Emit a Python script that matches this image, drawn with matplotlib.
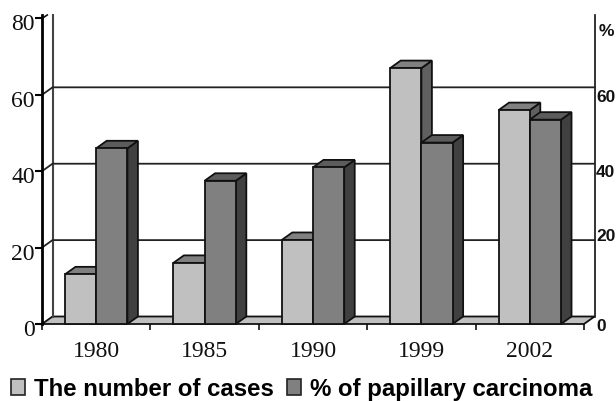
import matplotlib.pyplot as plt
from matplotlib.patches import Patch, Polygon
from matplotlib.transforms import Bbox, ScaledTranslation

W, H = 616, 402

years = ["1980", "1985", "1990", "1999", "2002"]
cases = [13, 16, 22, 67, 56]
papillary = [46, 37.5, 41, 47.5, 53.5]
left_ticks = [0, 20, 40, 60, 80]
right_labels = ["0", "20", "40", "60"]
right_label_y = [327, 237, 173, 97]   # pixels from top, they sit a bit off the grid

LIGHT = "#c0c0c0"
MID = "#808080"
LINE = "#111111"

fig = plt.figure(figsize=(W / 100, H / 100), dpi=100)

# axes box = front plane of the 3d chart
x0, x1, y0, y1 = 42, 584, 325, 16
ax = fig.add_axes([x0 / W, 1 - y0 / H, (x1 - x0) / W, (y0 - y1) / H])
ax.set_xlim(0, len(years))
ax.set_ylim(0, 80.9)
ax.patch.set_visible(False)
for s in ax.spines.values():
    s.set_visible(False)

# depth of the box in data units
px_x = len(years) / (x1 - x0)
px_y = 80.9 / (y0 - y1)
dx = 10.5 * px_x
dy = 7.5 * px_y
nx = len(years)
top = 80.9


def poly(points, fc, z, ec=LINE, lw=1.3):
    ax.add_patch(Polygon(points, closed=True, fc=fc, ec=ec, lw=lw, zorder=z,
                         clip_on=False, joinstyle="miter"))


def bar3d(left, width, height, front, side, lid, z):
    poly([(left, 0), (left + width, 0), (left + width, height), (left, height)], front, z + 0.2)
    poly([(left + width, 0), (left + width + dx, dy), (left + width + dx, height + dy),
          (left + width, height)], side, z)
    poly([(left, height), (left + width, height), (left + width + dx, height + dy),
          (left + dx, height + dy)], lid, z + 0.1)


# floor
poly([(0, 0), (dx, dy), (nx + dx, dy), (nx, 0)], LIGHT, 1)

# back walls
ax.plot([dx, dx], [dy, top], color="#444444", lw=1.5, zorder=1.5, clip_on=False)
ax.plot([nx + dx, nx + dx], [dy, top], color=LINE, lw=1.2, zorder=1.5, clip_on=False)
ax.plot([0, 0], [0, top], color="black", lw=2, zorder=6, clip_on=False)

# grid lines on the walls
for v in left_ticks[1:4]:
    ax.plot([0, dx, nx + dx], [v, v + dy, v + dy], color="#222222", lw=1.3, zorder=1.6,
            clip_on=False)
ax.plot([0, dx * 0.5], [80, top], color=LINE, lw=1.2, zorder=1.6, clip_on=False)

# bars
bar_w = 0.288
for i in range(len(years)):
    c = i + 0.5
    z = 3 + 2 * i
    bar3d(c - bar_w, bar_w, cases[i], LIGHT, "#606060", MID, z)
    bar3d(c, bar_w, papillary[i], MID, "#404040", "#5c5c5c", z + 1)

ax.set_yticks(left_ticks)
ax.set_yticklabels([str(v) for v in left_ticks], family="Liberation Serif", fontsize=17)
ax.tick_params(axis="y", length=5, width=1.5, pad=1, color="black")
shift = ScaledTranslation(1 / 100, -3 / 100, fig.dpi_scale_trans)
for lab in ax.get_yticklabels():
    lab.set_color("#111111")
    lab.set_transform(lab.get_transform() + shift)
    # the top of the 80 is cut off in the original
    lab.set_clip_box(Bbox([[0, 0], [W, H - y1]]))
    lab.set_clip_on(True)

ax.set_xticks(range(len(years) + 1))
ax.set_xticklabels([""] * (len(years) + 1))
ax.tick_params(axis="x", length=4, width=1.2, color=LINE)
for i, y in enumerate(years):
    ax.annotate(y, xy=(i + 0.5, 0), xytext=(0, -32), xycoords="data", textcoords="offset pixels",
                ha="center", va="baseline", family="Liberation Serif", fontsize=17,
                color="#111111", annotation_clip=False)

# right side labels
for lab, y in zip(right_labels, right_label_y):
    fig.text(596 / W, 1 - y / H, lab, ha="left", va="center", family="Liberation Sans",
             fontweight="bold", fontsize=12.5, color="#111111")
fig.text(599 / W, 1 - 31 / H, "%", ha="left", va="center", family="Liberation Sans",
         fontweight="bold", fontsize=12.5, color="#111111")

handles = [Patch(fc=LIGHT, ec="#222222", lw=1.2), Patch(fc=MID, ec="#222222", lw=1.2)]
fig.legend(handles, ["The number of cases", "% of papillary carcinoma"], ncol=2,
           loc="center left", bbox_to_anchor=(11 / W, 1 - 390 / H), frameon=False,
           prop={"family": "Liberation Sans", "weight": "bold", "size": 17.3},
           handlelength=0.6, handleheight=0.6, handletextpad=0.35, columnspacing=0.55,
           borderpad=0, borderaxespad=0)

fig.savefig("out.png", dpi=100)
